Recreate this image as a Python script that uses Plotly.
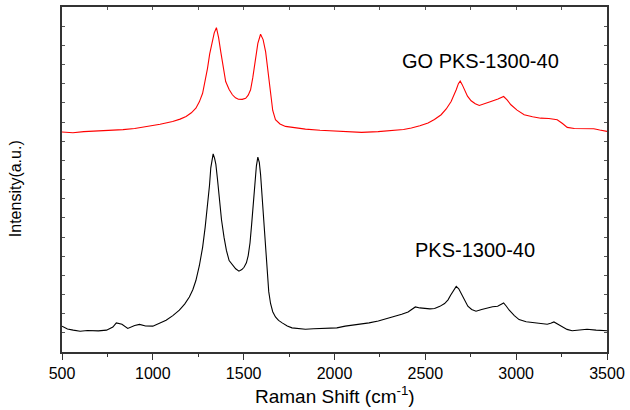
import plotly.graph_objects as go

# Raman shift (cm^-1) and intensity (a.u., arbitrary offset units)
pks_x = [500, 530, 562, 600, 640, 700, 745, 780, 799, 830, 862, 900, 927, 960, 1000, 1040, 1073,
         1110, 1146, 1175, 1201, 1220, 1237, 1256, 1274, 1288, 1301, 1312, 1319, 1326,
         1332, 1340, 1347, 1356, 1365, 1378, 1392, 1405, 1420, 1440, 1456, 1474, 1490, 1502,
         1515, 1525, 1535, 1544, 1553, 1562, 1570, 1578, 1586, 1593, 1602, 1611,
         1620, 1629, 1638, 1648, 1660, 1675, 1692, 1712, 1740, 1766, 1800, 1840, 1885, 1931,
         1970, 2013, 2059, 2100, 2149, 2190, 2241, 2290, 2332, 2370, 2405, 2425, 2445,
         2470, 2496, 2525, 2551, 2580, 2606, 2625, 2639, 2655, 2670, 2684, 2697, 2715, 2734,
         2755, 2779, 2810, 2843, 2870, 2898, 2915, 2931, 2945, 2962, 2990, 3016, 3055, 3098,
         3135, 3171, 3190, 3208, 3230, 3254, 3280, 3308, 3350, 3390, 3440, 3500]
pks_y = [1.35, 1.20, 1.14, 1.08, 1.12, 1.10, 1.14, 1.30, 1.52, 1.45, 1.23, 1.38, 1.44, 1.36, 1.35, 1.50, 1.66,
         1.90, 2.18, 2.50, 2.87, 3.25, 3.73, 4.50, 5.46, 6.50, 7.54, 8.70, 9.61, 10.00,
         10.34, 10.10, 9.79, 9.00, 8.06, 6.90, 5.98, 5.30, 4.77, 4.50, 4.34, 4.22, 4.30, 4.42,
         4.65, 5.03, 5.70, 6.67, 7.90, 8.92, 9.70, 10.17, 9.90, 9.27, 8.00, 6.67,
         5.30, 4.08, 3.15, 2.53, 2.10, 1.83, 1.65, 1.52, 1.36, 1.26, 1.22, 1.19, 1.21, 1.23,
         1.22, 1.26, 1.35, 1.40, 1.45, 1.52, 1.62, 1.74, 1.87, 1.97, 2.09, 2.22, 2.35,
         2.30, 2.27, 2.25, 2.27, 2.38, 2.53, 2.72, 2.96, 3.20, 3.42, 3.30, 3.04, 2.70, 2.39,
         2.22, 2.13, 2.22, 2.30, 2.36, 2.39, 2.47, 2.56, 2.40, 2.18, 1.90, 1.69, 1.58, 1.52,
         1.49, 1.45, 1.50, 1.57, 1.45, 1.31, 1.18, 1.11, 1.16, 1.19, 1.14, 1.11]

go_x = [500, 560, 620, 653, 700, 760, 836, 900, 982, 1040, 1109, 1150, 1183, 1212, 1237, 1256,
        1274, 1288, 1301, 1313, 1325, 1338, 1350, 1362, 1374, 1387, 1401, 1420, 1438, 1455, 1471,
        1492, 1511, 1525, 1538, 1550, 1562, 1578, 1593, 1607, 1621, 1635, 1648, 1660, 1675,
        1700, 1730, 1780, 1840, 1920, 2013, 2080, 2149, 2240, 2332, 2380, 2423, 2470, 2515,
        2550, 2587, 2615, 2642, 2658, 2670, 2682, 2692, 2703, 2715, 2732, 2752, 2775, 2797,
        2830, 2861, 2900, 2931, 2950, 2971, 3005, 3044, 3090, 3135, 3180, 3226, 3255, 3281,
        3320, 3354, 3390, 3427, 3460, 3500]
go_y = [11.48, 11.44, 11.50, 11.51, 11.55, 11.56, 11.60, 11.66, 11.77, 11.88, 12.03, 12.15, 12.29,
        12.48, 12.72, 13.05, 13.50, 14.10, 14.80, 15.55, 16.18, 16.65, 16.92, 16.40, 15.66,
        14.80, 14.11, 13.70, 13.42, 13.26, 13.19, 13.18, 13.24, 13.40, 13.68, 14.30, 15.15,
        16.10, 16.58, 16.30, 15.66, 14.50, 13.42, 12.60, 12.12, 11.90, 11.77, 11.70, 11.63,
        11.57, 11.51, 11.49, 11.46, 11.50, 11.55, 11.61, 11.69, 11.80, 11.95, 12.13, 12.38,
        12.68, 13.07, 13.40, 13.68, 14.00, 14.14, 13.95, 13.68, 13.35, 13.11, 12.95, 12.86,
        12.95, 13.07, 13.20, 13.33, 13.15, 12.90, 12.62, 12.38, 12.27, 12.20, 12.18, 12.12,
        11.92, 11.72, 11.66, 11.65, 11.67, 11.65, 11.58, 11.51]

x_ticks = [500, 1000, 1500, 2000, 2500, 3000, 3500]
x_range = [500, 3500]
y_range = [0, 18]

FONT = "Liberation Sans, Arial, sans-serif"

fig = go.Figure()
fig.add_trace(go.Scatter(x=go_x, y=go_y, mode="lines", line=dict(color="#ff0000", width=1.1),
                         showlegend=False, hoverinfo="skip"))
fig.add_trace(go.Scatter(x=pks_x, y=pks_y, mode="lines", line=dict(color="#000000", width=1.1),
                         showlegend=False, hoverinfo="skip"))
# helper so the top axis (inside ticks) is drawn
fig.add_trace(go.Scatter(x=x_range, y=[None, None], xaxis="x2", mode="lines",
                         showlegend=False, hoverinfo="skip"))

fig.update_layout(
    width=630, height=410,
    margin=dict(l=62, r=20, t=5, b=58),
    paper_bgcolor="white", plot_bgcolor="white",
    font=dict(family=FONT, color="#000"),
    xaxis=dict(range=x_range, tickvals=x_ticks, ticktext=[str(v) for v in x_ticks],
               ticks="outside", ticklen=6, tickwidth=1.3, tickcolor="#333",
               minor=dict(dtick=250, tick0=500, ticks="outside", ticklen=3, tickwidth=1.3, tickcolor="#333"),
               showline=True, linecolor="#333", linewidth=1.5, mirror=True,
               showgrid=False, zeroline=False, tickfont=dict(size=16, family=FONT)),
    xaxis2=dict(range=x_range, overlaying="x", side="top", dtick=250, tick0=500,
                ticks="inside", ticklen=3, tickwidth=1, tickcolor="#555",
                showticklabels=False, showgrid=False, zeroline=False, showline=False),
    yaxis=dict(range=y_range, dtick=1, tick0=0, ticks="inside", ticklen=3, tickwidth=1,
               tickcolor="#555", mirror="ticks", showticklabels=False,
               showline=True, linecolor="#333", linewidth=1.5,
               showgrid=False, zeroline=False),
    annotations=[
        dict(text="GO PKS-1300-40", x=2805, y=15.2, xref="x", yref="y", showarrow=False,
             font=dict(size=20, family=FONT, color="#000"), xanchor="center", yanchor="middle"),
        dict(text="PKS-1300-40", x=2772, y=5.3, xref="x", yref="y", showarrow=False,
             font=dict(size=20, family=FONT, color="#000"), xanchor="center", yanchor="middle"),
        dict(text="Raman Shift (cm<sup>-1</sup>)", x=(337 - 62) / 548, y=-(395 - 352) / 347,
             xref="paper", yref="paper", showarrow=False,
             font=dict(size=19, family=FONT, color="#000"), xanchor="center", yanchor="middle"),
        dict(text="Intensity(a.u.)", x=(16 - 62) / 548, y=(352 - 188) / 347,
             xref="paper", yref="paper", showarrow=False, textangle=-90,
             font=dict(size=16, family=FONT, color="#000"), xanchor="center", yanchor="middle"),
    ],
)

fig.write_html("out.html")
